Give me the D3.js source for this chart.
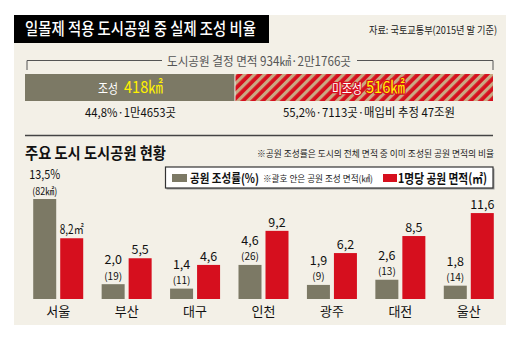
<!DOCTYPE html>
<html>
<head>
<meta charset="utf-8">
<script src="https://cdn.jsdelivr.net/npm/d3@7"></script>
<style>
  html, body { margin: 0; padding: 0; background: #fff; }
  svg { display: block; font-family: "Noto Sans CJK KR", "Noto Sans", sans-serif; }
</style>
</head>
<body>
<svg id="chart" width="516" height="337"></svg>
<script>
// Park area totals (km²)
const totalArea = 934;
const builtArea = 418;
const unbuiltArea = 516;

// Major cities
const cities = ["서울", "부산", "대구", "인천", "광주", "대전", "울산"];
const parkRate = [13.5, 2.0, 1.4, 4.6, 1.9, 2.6, 1.8];      // 공원 조성률 (%)
const parkArea = [82, 19, 11, 26, 9, 13, 14];                 // 조성 면적 (km²)
const perCapita = [8.2, 5.5, 4.6, 9.2, 6.2, 8.5, 11.6];       // 1명당 공원 면적 (m²)

const C = { panel: "#f3f0e7", gray: "#7c7965", red: "#d60f1e", tan: "#c9a983", yellow: "#fff200" };

const svg = d3.select("#chart");

// squeeze a text into a fixed width (condensed newspaper type)
function fit(sel, w) {
  return sel.attr("textLength", w).attr("lengthAdjust", "spacingAndGlyphs");
}

const defs = svg.append("defs");
const pat = defs.append("pattern").attr("id", "hatch")
  .attr("patternUnits", "userSpaceOnUse").attr("width", 7).attr("height", 7)
  .attr("patternTransform", "rotate(45)");
pat.append("rect").attr("width", 7).attr("height", 7).attr("fill", C.red);
pat.append("rect").attr("width", 3.2).attr("height", 7).attr("fill", C.tan);

// panel + title bar
svg.append("rect").attr("x", 14).attr("y", 15).attr("width", 492).attr("height", 310).attr("fill", C.panel);
svg.append("rect").attr("x", 14).attr("y", 15).attr("width", 255).attr("height", 28).attr("fill", "#000");
fit(svg.append("text").attr("x", 25).attr("y", 35).attr("fill", "#fff")
  .attr("font-size", 16.5).attr("font-weight", 500).text("일몰제 적용 도시공원 중 실제 조성 비율"), 231);
fit(svg.append("text").attr("x", 369).attr("y", 34).attr("fill", "#222")
  .attr("font-size", 10.5).text("자료: 국토교통부(2015년 말 기준)"), 128);

// top stacked bar
const xTop = d3.scaleLinear().domain([0, totalArea]).range([25, 493]);
const g1 = svg.append("g");
g1.append("path").attr("fill", "none").attr("stroke", "#555").attr("stroke-width", 1)
  .attr("d", `M${xTop(0) + 2},70V60.5H${xTop(totalArea)}V70`);
g1.append("rect").attr("x", 162).attr("y", 54).attr("width", 195).attr("height", 14).attr("fill", C.panel);
fit(g1.append("text").attr("x", 167).attr("y", 66)
  .attr("fill", "#555").attr("font-size", 12.5)
  .text(`도시공원 결정 면적 ${totalArea}㎢·2만1766곳`), 184);

g1.append("rect").attr("x", xTop(0)).attr("y", 74).attr("width", xTop(builtArea) - xTop(0))
  .attr("height", 27).attr("fill", C.gray);
g1.append("rect").attr("x", xTop(builtArea) + 1).attr("y", 74)
  .attr("width", xTop(totalArea) - xTop(builtArea) - 1).attr("height", 27).attr("fill", "url(#hatch)");

// labels inside the stacked bar
fit(g1.append("text").attr("x", 98).attr("y", 93).attr("fill", "#fff").attr("font-size", 13).text("조성"), 20);
fit(g1.append("text").attr("x", 124).attr("y", 93).attr("fill", C.yellow).attr("font-size", 16.5)
  .text(`${builtArea}㎢`), 39);
const outline = s => s.attr("stroke", C.red).attr("stroke-width", 2.5)
  .attr("paint-order", "stroke").attr("stroke-linejoin", "round");
fit(outline(g1.append("text").attr("x", 332).attr("y", 93).attr("fill", "#fff").attr("font-size", 13))
  .text("미조성"), 30);
fit(outline(g1.append("text").attr("x", 366).attr("y", 93).attr("fill", C.yellow).attr("font-size", 16.5))
  .text(`${unbuiltArea}㎢`), 39);

fit(g1.append("text").attr("x", 85).attr("y", 117).attr("font-size", 12)
  .attr("fill", "#111").text("44,8%·1만4653곳"), 91);
fit(g1.append("text").attr("x", 283).attr("y", 117).attr("font-size", 12)
  .attr("fill", "#111").text("55,2%·7113곳·매입비 추정 47조원"), 172);

// separator
svg.append("line").attr("x1", 25).attr("x2", 493).attr("y1", 135.5).attr("y2", 135.5)
  .attr("stroke", "#444").attr("stroke-width", 1.5);

fit(svg.append("text").attr("x", 25).attr("y", 159).attr("font-size", 15.5).attr("font-weight", 700)
  .attr("fill", "#111").text("주요 도시 도시공원 현황"), 141);
fit(svg.append("text").attr("x", 257).attr("y", 157).attr("font-size", 9)
  .attr("fill", "#222").text("※공원 조성률은 도시의 전체 면적 중 이미 조성된 공원 면적의 비율"), 237);

// legend
const lg = svg.append("g");
lg.append("rect").attr("x", 166.5).attr("y", 168.5).attr("width", 328).attr("height", 21).attr("fill", "#999");
lg.append("rect").attr("x", 165.5).attr("y", 167).attr("width", 327.5).attr("height", 21)
  .attr("fill", "#fff").attr("stroke", "#333").attr("stroke-width", 1.2);
lg.append("rect").attr("x", 172).attr("y", 174).attr("width", 15).attr("height", 8).attr("fill", C.gray);
fit(lg.append("text").attr("x", 190).attr("y", 182.5).attr("font-size", 12.5).attr("font-weight", 700)
  .attr("fill", "#111").text("공원 조성률(%)"), 69);
fit(lg.append("text").attr("x", 263).attr("y", 181.5).attr("font-size", 9)
  .attr("fill", "#222").text("※괄호 안은 공원 조성 면적(㎢)"), 110);
lg.append("rect").attr("x", 383).attr("y", 174).attr("width", 14).attr("height", 8).attr("fill", C.red);
fit(lg.append("text").attr("x", 398).attr("y", 183).attr("font-size", 13).attr("font-weight", 700)
  .attr("fill", "#111").text("1명당 공원 면적(㎡)"), 89);

// grouped bars
const x = d3.scaleBand().domain(cities).range([24, 503]);
const y = d3.scaleLinear().domain([0, 13.5]).range([299, 199]);
const fmt = v => d3.format(".1f")(v).replace(".", ",");
const data = cities.map((c, i) => ({ c, rate: parkRate[i], area: parkArea[i], pc: perCapita[i], i }));

const bars = svg.append("g");
const grp = bars.selectAll("g").data(data).join("g")
  .attr("transform", d => `translate(${x(d.c) + x.bandwidth() / 2},0)`);

grp.append("rect").attr("x", -25).attr("width", 23)
  .attr("y", d => y(d.rate)).attr("height", d => y(0) - y(d.rate)).attr("fill", C.gray);
grp.append("rect").attr("x", 2).attr("width", 23)
  .attr("y", d => y(d.pc)).attr("height", d => y(0) - y(d.pc)).attr("fill", C.red);

grp.append("text").attr("x", -13.5).attr("y", d => y(d.rate) - 20).attr("text-anchor", "middle")
  .attr("font-size", 12.5).attr("fill", "#111")
  .each(function (d) { if (d.i === 0) fit(d3.select(this), 31); })
  .text(d => fmt(d.rate) + (d.i === 0 ? "%" : ""));
grp.append("text").attr("x", -13.5).attr("y", d => y(d.rate) - 4.5).attr("text-anchor", "middle")
  .attr("font-size", 10).attr("fill", "#111")
  .each(function (d) { if (d.i === 0) fit(d3.select(this), 25); })
  .text(d => `(${d.area}${d.i === 0 ? "㎢" : ""})`);
grp.append("text").attr("x", 13.5).attr("y", d => y(d.pc) - 4).attr("text-anchor", "middle")
  .attr("font-size", 12.5).attr("fill", "#111")
  .each(function (d) { if (d.i === 0) fit(d3.select(this), 24); })
  .text(d => fmt(d.pc) + (d.i === 0 ? "㎡" : ""));

grp.append("text").attr("x", 0).attr("y", 316).attr("text-anchor", "middle")
  .attr("font-size", 13).attr("fill", "#111").text(d => d.c);
</script>
</body>
</html>
